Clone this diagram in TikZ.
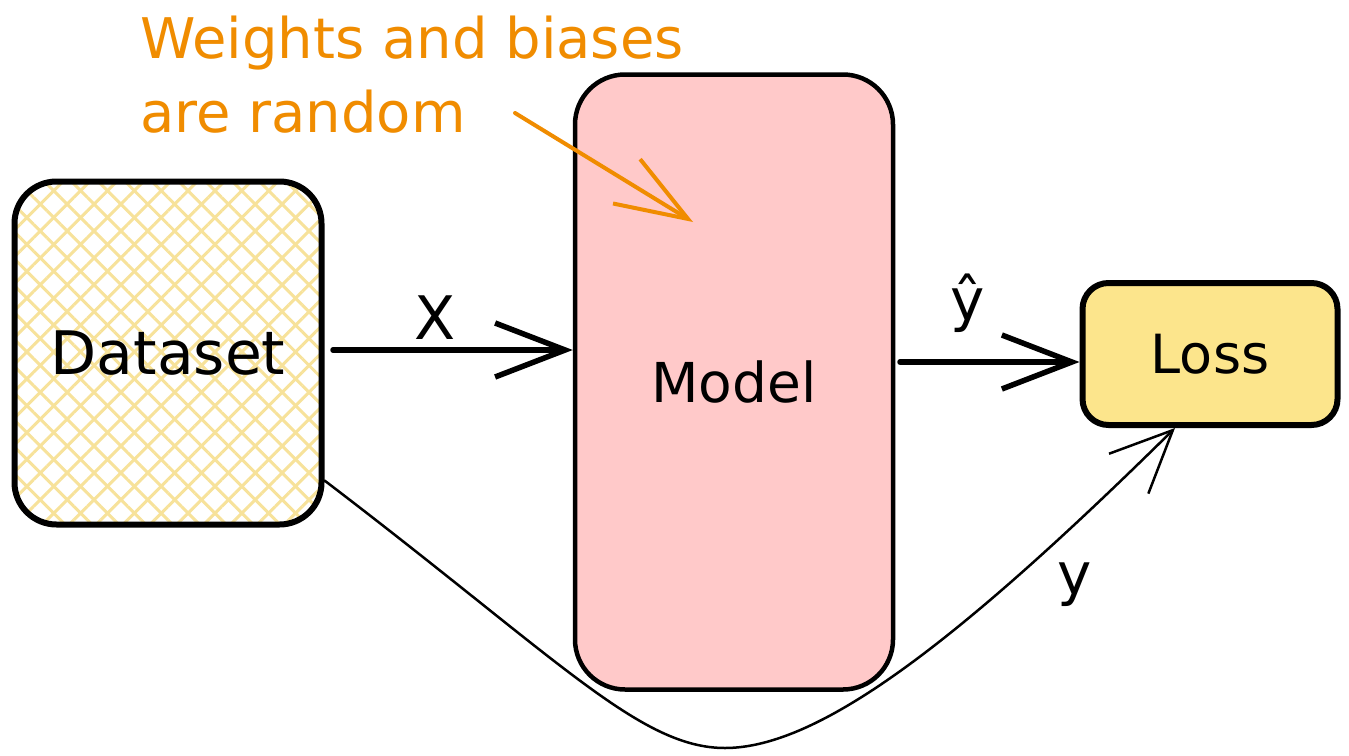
\documentclass[tikz,border=0pt]{standalone}
\usepackage{fontspec}
\setmainfont{DejaVu Sans}
\usetikzlibrary{arrows.meta,patterns.meta,calc}
\definecolor{hatchyel}{HTML}{F7E29A}
\definecolor{modelpink}{HTML}{FFC9C9}
\definecolor{lossyel}{HTML}{FCE58C}
\definecolor{noteorange}{HTML}{F08C00}
\tikzset{
  box/.style={draw=black, line width=6pt, rounded corners=#1, inner sep=0pt},
  flow/.style={line width=5.5pt, line cap=round, -{Straight Barb[length=70pt,width=54pt]}},
  thinflow/.style={line width=2.5pt, line cap=round, -{Straight Barb[length=62pt,width=56pt]}},
  lbl/.style={font=\fontsize{#1}{#1}\selectfont, inner sep=0pt},
}
\begin{document}
\begin{tikzpicture}[x=1pt,y=-1pt]
\fill[white] (0,0) rectangle (1349,755);
\useasboundingbox (0,0) rectangle (1349,755);

% Dataset (hatched)
\node[box=42pt, minimum width=307pt, minimum height=343pt,
  preaction={fill=white},
  preaction={pattern={Lines[angle=45,distance=19pt,line width=3pt]},pattern color=hatchyel},
  preaction={pattern={Lines[angle=-45,distance=19pt,line width=3pt]},pattern color=hatchyel},
  lbl=60] (ds) at (168,353) {Dataset};

% Model
\node[box=50pt, line width=4.5pt, fill=modelpink, minimum width=318pt, minimum height=615pt, lbl=55]
  (model) at (734,382) {Model};

% Loss
\node[box=26pt, fill=lossyel, minimum width=255pt, minimum height=142pt, lbl=54]
  (loss) at (1210,354) {Loss};

% X arrow
\coordinate (xs) at (333,350);
\draw[flow] (xs) -- (model.west |- xs);
\node[lbl=60] (xl) at (435,318) {X};

% y-hat arrow
\coordinate (ys) at (900,362);
\draw[flow] (ys) -- (loss.west |- ys);
\node[lbl=58] (yhl) at (968,303) {ŷ};

% curved y arrow
\draw[thinflow] ([yshift=47pt]ds.south east)
  .. controls (560,660) and (640,748) .. (725,748)
  .. controls (820,748) and (960,640) .. ([xshift=-35pt]loss.south);
\node[lbl=58] (yl) at (1075,585) {y};

% annotation
\node[text=noteorange, anchor=north west, align=left, inner sep=0pt,
  font=\fontsize{56}{74}\selectfont] (note) at (140,16) {Weights and biases\\are random};
\coordinate (nt) at (515,113);
\draw[noteorange, line width=4pt, line cap=round, -{Straight Barb[length=72pt,width=52pt]}]
  (nt) -- (693,222);
\end{tikzpicture}
\end{document}
